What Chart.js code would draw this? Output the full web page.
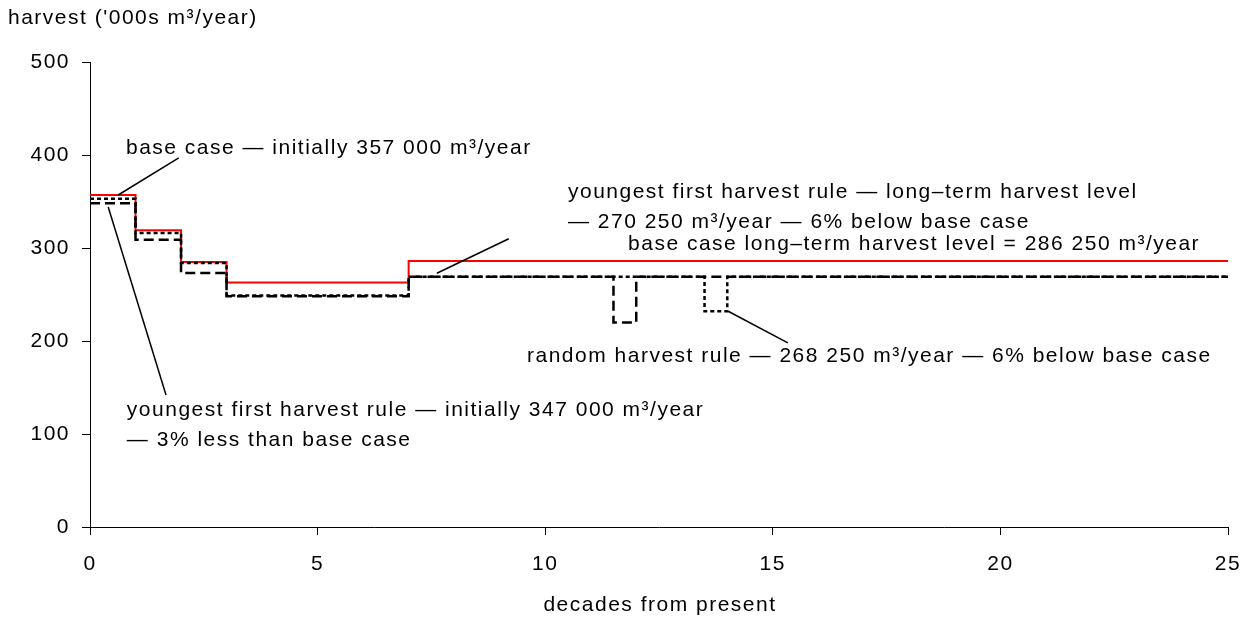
<!DOCTYPE html>
<html>
<head>
<meta charset="utf-8">
<script src="https://cdn.jsdelivr.net/npm/chart.js@4/dist/chart.umd.min.js"></script>
<style>
  html, body { margin: 0; padding: 0; background: #fff; }
</style>
</head>
<body>
<canvas id="chart" width="1246" height="618"></canvas>
<script>
// step start points (decades) and harvest levels ('000s m3/year)
const baseDecades = [0, 1, 2, 3, 7, 25];
const baseHarvest = [357, 319, 285, 263, 286, 286];

const youngestDecades = [0, 1, 2, 3, 7, 11.5, 12, 25];
const youngestHarvest = [348, 309, 273, 248, 269, 220, 269, 269];

const randomDecades = [0, 1, 2, 3, 7, 13.5, 14, 25];
const randomHarvest = [353, 316, 284, 249, 269, 232, 269, 269];

const xTicks = [0, 5, 10, 15, 20, 25];
const yTicks = [0, 100, 200, 300, 400, 500];

// annotation texts, anchored in data units [decade, harvest]
const notes = [
    { text: "base case \u2014 initially 357 000 m\u00b3/year", at: [0.79, 407.5] },
    { text: "youngest first harvest rule \u2014 long\u2013term harvest level", at: [10.5, 360] },
    { text: "\u2014 270 250 m\u00b3/year \u2014 6% below base case", at: [10.5, 328] },
    { text: "base case long\u2013term harvest level = 286 250 m\u00b3/year", at: [11.82, 304.3] },
    { text: "random harvest rule \u2014 268 250 m\u00b3/year \u2014 6% below base case", at: [9.6, 184] },
    { text: "youngest first harvest rule \u2014 initially 347 000 m\u00b3/year", at: [0.81, 125.8] },
    { text: "\u2014 3% less than base case", at: [0.81, 93.5] },
];
const pointers = [
    [[1.95, 397], [0.62, 357]],
    [[0.40, 344], [1.67, 142]],
    [[9.2, 310], [7.62, 272.8]],
    [[14.02, 232], [15.33, 198]],
];

const toPoints = (xs, ys) => xs.map((x, i) => ({ x, y: ys[i] }));
const FONT = "'Liberation Sans', Arial, sans-serif";
const FONT_SIZE = 21;
const SPACING = "1.5px";

const notesPlugin = {
    id: "notes",
    beforeDraw(chart) {
        chart.ctx.letterSpacing = SPACING;
    },
    afterDraw(chart) {
        const { ctx, scales } = chart;
        const sx = scales.x, sy = scales.y;
        ctx.save();
        ctx.strokeStyle = "#000";
        ctx.lineWidth = 1.5;
        pointers.forEach(([a, b]) => {
            ctx.beginPath();
            ctx.moveTo(sx.getPixelForValue(a[0]), sy.getPixelForValue(a[1]));
            ctx.lineTo(sx.getPixelForValue(b[0]), sy.getPixelForValue(b[1]));
            ctx.stroke();
        });
        ctx.fillStyle = "#000";
        ctx.font = FONT_SIZE + "px " + FONT;
        ctx.letterSpacing = SPACING;
        ctx.textBaseline = "middle";
        ctx.textAlign = "left";
        notes.forEach(n => {
            ctx.fillText(n.text, sx.getPixelForValue(n.at[0]), sy.getPixelForValue(n.at[1]));
        });
        // axis titles
        ctx.fillText("harvest ('000s m\u00b3/year)", 8, 18);
        ctx.textAlign = "center";
        ctx.fillText("decades from present", (chart.chartArea.left + chart.chartArea.right) / 2 + 1, 605);
        ctx.restore();
    }
};

const lineStyle = {
    stepped: "before",
    fill: false,
    pointRadius: 0,
    borderJoinStyle: "miter",
    borderCapStyle: "butt",
};

new Chart(document.getElementById("chart"), {
    type: "line",
    data: {
        datasets: [
            {
                ...lineStyle,
                label: "youngest first harvest rule",
                data: toPoints(youngestDecades, youngestHarvest),
                borderColor: "#000",
                borderWidth: 2.5,
                borderDash: [10, 5],
            },
            {
                ...lineStyle,
                label: "random harvest rule",
                data: toPoints(randomDecades, randomHarvest),
                borderColor: "#000",
                borderWidth: 2.5,
                borderDash: [4, 3],
            },
            {
                ...lineStyle,
                label: "base case",
                data: toPoints(baseDecades, baseHarvest),
                borderColor: "#ff0000",
                borderWidth: 2,
            },
        ],
    },
    options: {
        responsive: false,
        animation: false,
        devicePixelRatio: 1,
        layout: { padding: { left: 0, right: 18, top: 62, bottom: 0 } },
        plugins: {
            legend: { display: false },
            tooltip: { enabled: false },
        },
        scales: {
            x: {
                type: "linear",
                min: 0,
                max: 25,
                afterBuildTicks: s => { s.ticks = xTicks.map(v => ({ value: v })); },
                afterFit: s => { s.height = 91; s.paddingLeft = 0; s.paddingRight = 0; },
                grid: { drawOnChartArea: false, drawTicks: true, tickLength: 8, color: "#000" },
                border: { color: "#000", width: 1 },
                ticks: { color: "#000", font: { family: FONT, size: FONT_SIZE }, padding: 17, maxRotation: 0 },
            },
            y: {
                min: 0,
                max: 500,
                afterBuildTicks: s => { s.ticks = yTicks.map(v => ({ value: v })); },
                afterFit: s => { s.width = 90; s.paddingTop = 0; s.paddingBottom = 0; },
                grid: { drawOnChartArea: false, drawTicks: true, tickLength: 8, color: "#000" },
                border: { color: "#000", width: 1 },
                ticks: { color: "#000", font: { family: FONT, size: FONT_SIZE }, padding: 12 },
            },
        },
    },
    plugins: [notesPlugin],
});
</script>
</body>
</html>
